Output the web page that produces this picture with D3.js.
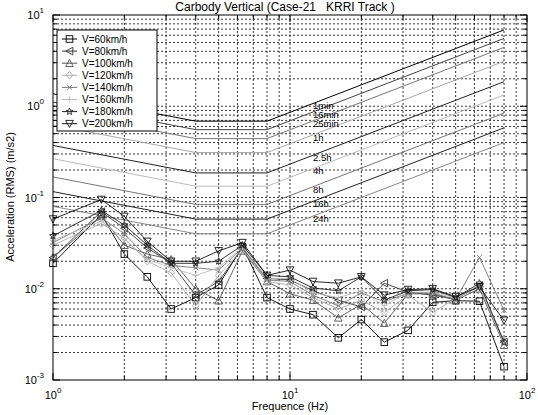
<!DOCTYPE html>
<html><head><meta charset="utf-8">
<script src="https://cdn.jsdelivr.net/npm/d3@7"></script>
<style>
html,body{margin:0;padding:0;background:#fff;}
svg{display:block;font-family:"Liberation Sans",Arial,sans-serif;}
</style></head>
<body><svg id="c" width="538" height="415"></svg>
<script>
// ---------- data ----------
const freqs = [1,1.6,2,2.5,3.15,4,5,6.3,8,10,12.5,16,20,25,31.5,40,50,63,80];
const seriesNames = ["V=60km/h","V=80km/h","V=100km/h","V=120km/h","V=140km/h","V=160km/h","V=180km/h","V=200km/h"];
const v60  = [0.019,0.065,0.024,0.0135,0.006,0.008,0.011,0.029,0.008,0.006,0.0052,0.0029,0.0046,0.0026,0.0035,0.0071,0.0074,0.0073,0.0014];
const v80  = [0.022,0.070,0.046,0.028,0.019,0.0085,0.012,0.028,0.013,0.0125,0.0095,0.0075,0.0063,0.0115,0.0092,0.0085,0.0077,0.0108,0.0026];
const v100 = [0.022,0.062,0.030,0.024,0.021,0.010,0.0074,0.026,0.012,0.0088,0.0075,0.0048,0.0068,0.0042,0.0088,0.0088,0.0075,0.0100,0.0024];
const v120 = [0.030,0.052,0.036,0.020,0.015,0.0065,0.014,0.027,0.012,0.011,0.008,0.006,0.0075,0.0055,0.0085,0.0055,0.0078,0.0105,0.0027];
const v140 = [0.032,0.060,0.040,0.022,0.018,0.017,0.016,0.028,0.0125,0.012,0.0085,0.0065,0.009,0.0072,0.009,0.009,0.0076,0.022,0.0058];
const v160 = [0.034,0.055,0.035,0.021,0.017,0.014,0.017,0.029,0.013,0.013,0.009,0.008,0.0095,0.0065,0.0092,0.0092,0.0078,0.011,0.0025];
const v180 = [0.038,0.072,0.050,0.030,0.019,0.019,0.020,0.030,0.014,0.0135,0.0102,0.0095,0.0135,0.0075,0.0095,0.0098,0.008,0.0115,0.0026];
const v200 = [0.058,0.095,0.062,0.033,0.020,0.020,0.026,0.032,0.014,0.016,0.012,0.0115,0.0135,0.0085,0.0098,0.010,0.0082,0.0105,0.0045];
const seriesValues = [v60,v80,v100,v120,v140,v160,v180,v200];

// exposure limit curves (breakpoints at 1, 4, 8, 80 Hz)
const limitFreqs = [1,4,8,80];
const limitLabels = ["1min","16min","25min","1h","2.5h","4h","8h","16h","24h"];
const limitValues = [
  [1.37,0.686,0.686,6.86],
  [1.11,0.554,0.554,5.54],
  [0.884,0.442,0.442,4.42],
  [0.622,0.311,0.311,3.11],
  [0.372,0.186,0.186,1.86],
  [0.266,0.133,0.133,1.33],
  [0.168,0.084,0.084,0.84],
  [0.116,0.058,0.058,0.58],
  [0.080,0.040,0.040,0.40]
];
const xTickExps = [0,1,2];
const yTickExps = [-3,-2,-1,0,1];

// ---------- styles ----------
const seriesColors = ["#000","#333","#555","#aaa","#777","#bbb","#222","#111"];
const seriesMarkers = ["square","ltri","utri","diamond","x","plus","star","dtri"];
const limitColors = ["#000","#444","#777","#aaa","#222","#bbb","#777","#222","#888"];

const svg = d3.select("#c");
const L=53,R=527,T=15,B=380;
const x = d3.scaleLog().domain([1,100]).range([L,R]);
const y = d3.scaleLog().domain([1e-3,10]).range([B,T]);

// grid
const gx=[], gy=[];
for(let e=0;e<2;e++) for(let m=1;m<=9;m++) gx.push(m*Math.pow(10,e));
gx.push(100);
for(let e=-3;e<1;e++) for(let m=1;m<=9;m++) gy.push(m*Math.pow(10,e));
gy.push(10);
const grid = svg.append("g").attr("stroke","#000").attr("stroke-width",0.8).attr("stroke-dasharray","2,2");
grid.selectAll("line.vx").data(gx.filter(d=>d>1&&d<100)).enter().append("line")
  .attr("x1",d=>x(d)).attr("x2",d=>x(d)).attr("y1",T).attr("y2",B);
grid.selectAll("line.hy").data(gy.filter(d=>d>1e-3&&d<10)).enter().append("line")
  .attr("y1",d=>y(d)).attr("y2",d=>y(d)).attr("x1",L).attr("x2",R);

// ticks (inward, all four sides)
const tk = svg.append("g").attr("stroke","#000").attr("stroke-width",1);
gx.forEach(d=>{
  const len = (Math.abs(Math.log10(d)%1)<1e-9)?7:4;
  tk.append("line").attr("x1",x(d)).attr("x2",x(d)).attr("y1",B).attr("y2",B-len);
  tk.append("line").attr("x1",x(d)).attr("x2",x(d)).attr("y1",T).attr("y2",T+len);
});
gy.forEach(d=>{
  const len = (Math.abs(Math.log10(d)%1)<1e-9)?7:4;
  tk.append("line").attr("y1",y(d)).attr("y2",y(d)).attr("x1",L).attr("x2",L+len);
  tk.append("line").attr("y1",y(d)).attr("y2",y(d)).attr("x1",R).attr("x2",R-len);
});

// limit curves
const line = d3.line().x(d=>x(d[0])).y(d=>y(d[1]));
limitValues.forEach((vals,i)=>{
  svg.append("path").attr("d",line(limitFreqs.map((f,j)=>[f,vals[j]])))
    .attr("fill","none").attr("stroke",limitColors[i]).attr("stroke-width",1);
});
// labels placed on the rising part of each curve
const labF = 12.7;
limitValues.forEach((vals,i)=>{
  const v = vals[2]*labF/limitFreqs[2];
  svg.append("text").attr("x",x(12.5)).attr("y",y(v)+3)
    .attr("dominant-baseline","central").attr("font-size",9.5).attr("fill","#000")
    .text(limitLabels[i]);
});

// markers
function marker(g,type,cx,cy,col){
  const s=3.3;
  let el;
  if(type==="square") el=g.append("rect").attr("x",cx-s).attr("y",cy-s).attr("width",2*s).attr("height",2*s);
  else if(type==="utri") el=g.append("path").attr("d",`M${cx},${cy-s-0.5}L${cx+s+0.5},${cy+s}L${cx-s-0.5},${cy+s}Z`);
  else if(type==="dtri") el=g.append("path").attr("d",`M${cx},${cy+s+0.5}L${cx+s+0.5},${cy-s}L${cx-s-0.5},${cy-s}Z`);
  else if(type==="ltri") el=g.append("path").attr("d",`M${cx-s-0.5},${cy}L${cx+s},${cy-s-0.5}L${cx+s},${cy+s+0.5}Z`);
  else if(type==="diamond") el=g.append("path").attr("d",`M${cx},${cy-s-0.5}L${cx+s},${cy}L${cx},${cy+s+0.5}L${cx-s},${cy}Z`);
  else if(type==="x") el=g.append("path").attr("d",`M${cx-2.5},${cy-2.5}L${cx+2.5},${cy+2.5}M${cx-2.5},${cy+2.5}L${cx+2.5},${cy-2.5}`);
  else if(type==="plus") el=g.append("path").attr("d",`M${cx-3},${cy}L${cx+3},${cy}M${cx},${cy-3}L${cx},${cy+3}`);
  else if(type==="star"){
    const pts=[];
    for(let k=0;k<10;k++){const r=k%2?1.6:3.6;const a=-Math.PI/2+k*Math.PI/5;pts.push([cx+r*Math.cos(a),cy+r*Math.sin(a)]);}
    el=g.append("path").attr("d","M"+pts.map(p=>p.join(",")).join("L")+"Z");
  }
  el.attr("fill","none").attr("stroke",col).attr("stroke-width",0.9);
}

// series
seriesValues.forEach((vals,i)=>{
  const g=svg.append("g");
  const pts=freqs.map((f,j)=>[f,vals[j]]);
  g.append("path").attr("d",line(pts)).attr("fill","none").attr("stroke",seriesColors[i]).attr("stroke-width",0.9);
  pts.forEach(p=>marker(g,seriesMarkers[i],x(p[0]),y(p[1]),seriesColors[i]));
});

// frame
svg.append("rect").attr("x",L).attr("y",T).attr("width",R-L).attr("height",B-T)
  .attr("fill","none").attr("stroke","#000").attr("stroke-width",1);

// legend
const lg=svg.append("g");
const lgX=57,lgY=30,lgW=100,lgH=101,lgStep=12.1;
lg.append("rect").attr("x",lgX).attr("y",lgY).attr("width",lgW).attr("height",lgH)
  .attr("fill","#fff").attr("stroke","#000").attr("stroke-width",1);
seriesNames.forEach((n,i)=>{
  const yy=lgY+9+i*lgStep;
  lg.append("line").attr("x1",lgX+5).attr("x2",lgX+20).attr("y1",yy).attr("y2",yy).attr("stroke",seriesColors[i]).attr("stroke-width",1);
  marker(lg,seriesMarkers[i],lgX+12.5,yy,seriesColors[i]);
  lg.append("text").attr("x",lgX+25).attr("y",yy).attr("dominant-baseline","central")
    .attr("font-size",10).attr("fill","#000").text(n);
});

// tick labels
xTickExps.forEach(e=>{
  const t=svg.append("text").attr("x",x(Math.pow(10,e))).attr("y",399).attr("text-anchor","middle").attr("font-size",11);
  t.append("tspan").text("10");
  t.append("tspan").attr("dy",-6).attr("font-size",8).text(e);
});
yTickExps.forEach(e=>{
  const t=svg.append("text").attr("x",44).attr("y",y(Math.pow(10,e))+4).attr("text-anchor","end").attr("font-size",11);
  t.append("tspan").text("10");
  t.append("tspan").attr("dy",-6).attr("font-size",8).text(e);
});

// titles
svg.append("text").attr("x",285).attr("y",11).attr("text-anchor","middle").attr("font-size",12)
  .text("Carbody Vertical (Case-21\u00a0\u00a0\u00a0KRRI Track )");
svg.append("text").attr("x",290).attr("y",410).attr("text-anchor","middle").attr("font-size",11)
  .text("Frequence (Hz)");
svg.append("text").attr("transform","translate(14,197) rotate(-90)").attr("text-anchor","middle").attr("font-size",11)
  .text("Acceleration (RMS) (m/s2)");
</script></body></html>
